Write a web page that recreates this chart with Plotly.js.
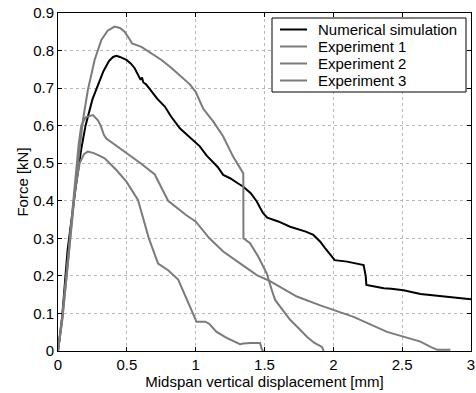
<!DOCTYPE html>
<html>
<head>
<meta charset="utf-8">
<script src="https://cdn.plot.ly/plotly-3.0.1.min.js"></script>
<style>html,body{margin:0;padding:0;background:#fff;}#chart{width:476px;height:393px;}</style>
</head>
<body>
<div id="chart"></div>
<script>
// Numerical simulation
const simX = [0, 0.03, 0.07, 0.1, 0.13, 0.17, 0.2, 0.25, 0.29, 0.33, 0.37, 0.40, 0.424, 0.45, 0.497, 0.53, 0.557, 0.60, 0.61, 0.62, 0.64, 0.679, 0.72, 0.776, 0.82, 0.885, 0.93, 0.994, 1.03, 1.08, 1.12, 1.16, 1.2, 1.25, 1.3, 1.346, 1.40, 1.444, 1.47, 1.49, 1.52, 1.6, 1.686, 1.76, 1.80, 1.855, 1.88, 1.905, 1.94, 1.977, 2.01, 2.1, 2.22, 2.235, 2.24, 2.30, 2.366, 2.42, 2.51, 2.633, 2.75, 2.85, 3.0];
const simY = [0, 0.09, 0.27, 0.36, 0.44, 0.54, 0.60, 0.67, 0.71, 0.745, 0.772, 0.783, 0.786, 0.783, 0.775, 0.765, 0.753, 0.722, 0.728, 0.715, 0.71, 0.69, 0.672, 0.651, 0.625, 0.593, 0.578, 0.557, 0.545, 0.52, 0.505, 0.49, 0.469, 0.46, 0.448, 0.4375, 0.42, 0.398, 0.38, 0.367, 0.355, 0.345, 0.331, 0.322, 0.318, 0.309, 0.30, 0.291, 0.274, 0.258, 0.242, 0.238, 0.229, 0.20, 0.176, 0.172, 0.167, 0.166, 0.162, 0.152, 0.148, 0.144, 0.138];
// Experiment 1
const exp1X = [0, 0.03, 0.06, 0.09, 0.13, 0.181, 0.217, 0.266, 0.315, 0.36, 0.411, 0.45, 0.484, 0.52, 0.538, 0.606, 0.68, 0.752, 0.82, 0.897, 0.958, 1.0, 1.055, 1.13, 1.20, 1.273, 1.346, 1.347, 1.36, 1.395, 1.455, 1.516, 1.553, 1.577, 1.63, 1.686, 1.75, 1.808, 1.86, 1.917, 1.93];
const exp1Y = [0, 0.08, 0.19, 0.31, 0.45, 0.615, 0.695, 0.775, 0.828, 0.853, 0.864, 0.86, 0.85, 0.83, 0.819, 0.81, 0.793, 0.775, 0.755, 0.730, 0.71, 0.69, 0.645, 0.61, 0.571, 0.517, 0.473, 0.30, 0.297, 0.287, 0.251, 0.207, 0.162, 0.136, 0.11, 0.083, 0.06, 0.038, 0.022, 0.011, 0];
// Experiment 2
const exp2X = [0, 0.03, 0.06, 0.09, 0.12, 0.15, 0.169, 0.2, 0.254, 0.29, 0.31, 0.334, 0.351, 0.42, 0.509, 0.6, 0.703, 0.76, 0.80, 0.93, 1.0, 1.1, 1.2, 1.32, 1.444, 1.54, 1.64, 1.735, 1.9, 2.147, 2.39, 2.633, 2.706, 2.755, 2.85];
const exp2Y = [0, 0.09, 0.2, 0.32, 0.44, 0.55, 0.60, 0.622, 0.628, 0.614, 0.6, 0.575, 0.566, 0.548, 0.526, 0.5, 0.47, 0.43, 0.40, 0.362, 0.345, 0.30, 0.265, 0.234, 0.202, 0.186, 0.165, 0.145, 0.122, 0.091, 0.051, 0.025, 0.011, 0.003, 0.003];
// Experiment 3
const exp3X = [0, 0.03, 0.06, 0.09, 0.12, 0.157, 0.19, 0.217, 0.26, 0.3, 0.339, 0.424, 0.497, 0.581, 0.66, 0.727, 0.80, 0.873, 0.93, 0.994, 1.006, 1.07, 1.1, 1.152, 1.225, 1.322, 1.346, 1.40, 1.468, 1.48, 1.49];
const exp3Y = [0, 0.08, 0.19, 0.31, 0.42, 0.50, 0.525, 0.531, 0.527, 0.52, 0.513, 0.482, 0.451, 0.402, 0.30, 0.233, 0.215, 0.19, 0.14, 0.087, 0.078, 0.078, 0.072, 0.051, 0.035, 0.018, 0.02, 0.021, 0.021, 0.005, 0];

const names = ["Numerical simulation", "Experiment 1", "Experiment 2", "Experiment 3"];
const xTicks = [0, 0.5, 1, 1.5, 2, 2.5, 3];
const yTicks = [0, 0.1, 0.2, 0.3, 0.4, 0.5, 0.6, 0.7, 0.8, 0.9];

const gray = "#7b7b7b";
const colors = ["#000", gray, gray, gray];
const traces = [
  {x: simX, y: simY, name: names[0], mode: "lines", line: {color: colors[0], width: 2}},
  {x: exp1X, y: exp1Y, name: names[1], mode: "lines", line: {color: colors[1], width: 2}},
  {x: exp2X, y: exp2Y, name: names[2], mode: "lines", line: {color: colors[2], width: 2}},
  {x: exp3X, y: exp3Y, name: names[3], mode: "lines", line: {color: colors[3], width: 2}}
];
const font = {family: "Liberation Sans, Arial, sans-serif", size: 15, color: "#000"};
const axisCommon = {
  showline: true, linecolor: "#000", linewidth: 1, mirror: "ticks",
  ticks: "inside", ticklen: 4, tickcolor: "#000",
  showgrid: true, gridcolor: "#b8b8b8", griddash: "dot", gridwidth: 1,
  zeroline: false, tickfont: font
};

// Legend drawn as box + line samples + text (paper coordinates)
const L = 58, T = 13, W = 413, H = 338;
const px = v => (v - L) / W;
const py = v => (T + H - v) / H;
const shapes = [{type: "rect", xref: "paper", yref: "paper", x0: px(272), x1: px(466), y0: py(18), y1: py(92),
  line: {color: "#000", width: 1}, fillcolor: "#fff", layer: "above"}];
const annotations = [];
const rowY = [29.5, 46.5, 63.5, 80.5];
names.forEach((n, i) => {
  shapes.push({type: "line", xref: "paper", yref: "paper", x0: px(280), x1: px(307), y0: py(rowY[i]), y1: py(rowY[i]),
    line: {color: colors[i], width: 2}, layer: "above"});
  annotations.push({xref: "paper", yref: "paper", x: px(316), y: py(rowY[i]), xanchor: "left", yanchor: "middle",
    text: n, showarrow: false, font: font});
});

const layout = {
  width: 476, height: 393,
  margin: {l: 58, r: 5, t: 13, b: 42},
  paper_bgcolor: "#fff", plot_bgcolor: "#fff",
  font: font,
  showlegend: false,
  shapes: shapes,
  annotations: annotations,
  xaxis: Object.assign({}, axisCommon, {range: [0, 3], tickvals: xTicks, ticktext: xTicks.map(String),
    title: {text: "Midspan vertical displacement [mm]", font: font, standoff: 2}}),
  yaxis: Object.assign({}, axisCommon, {range: [0, 0.9], tickvals: yTicks, ticktext: yTicks.map(String),
    title: {text: "Force [kN]", font: font, standoff: 0}})
};
Plotly.newPlot("chart", traces, layout, {staticPlot: true, displayModeBar: false});
</script>
</body>
</html>
